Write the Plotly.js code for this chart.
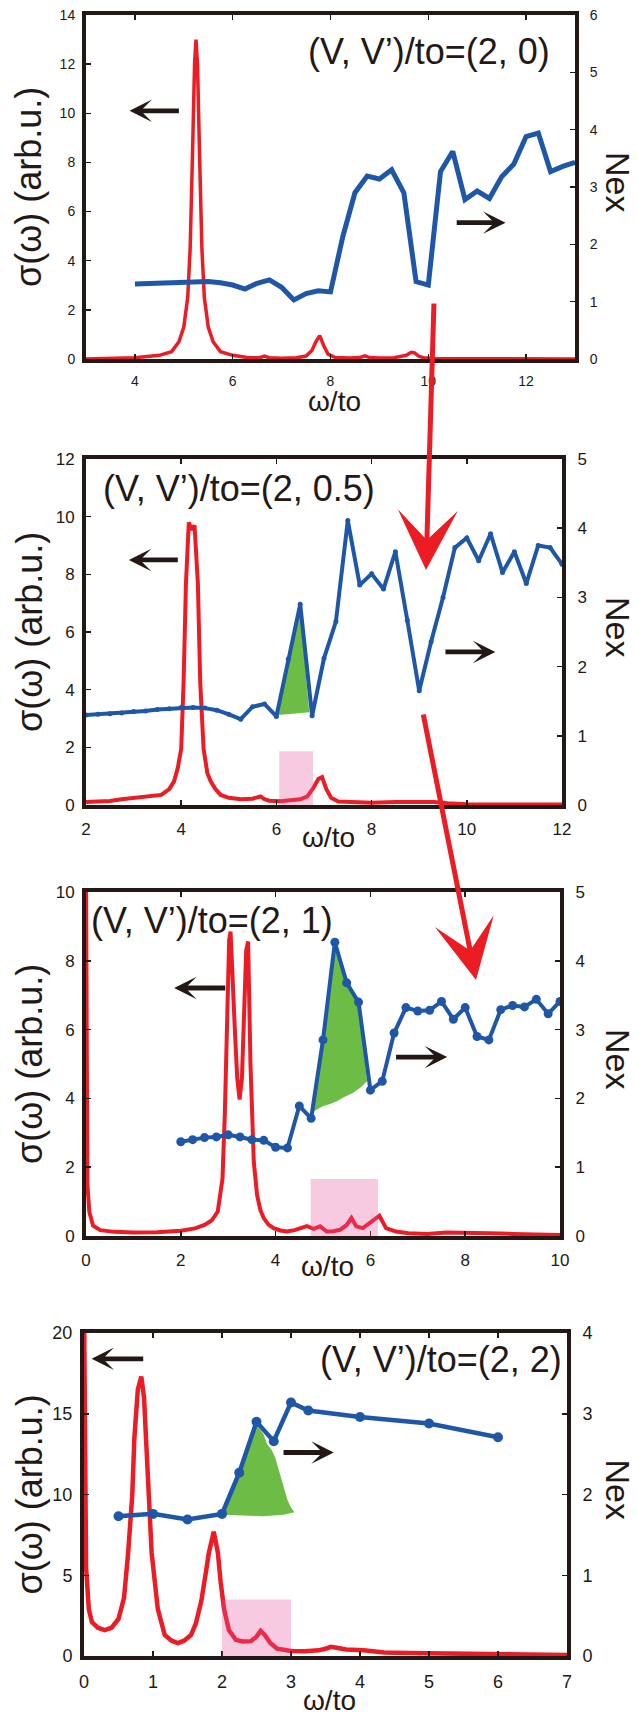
<!DOCTYPE html>
<html><head><meta charset="utf-8">
<script src="https://cdn.plot.ly/plotly-3.0.1.min.js"></script>
<style>html,body{margin:0;padding:0;background:#fff}#chart{width:637px;height:1717px}</style>
</head><body><div id="chart"></div>
<script>
// ---------------- DATA ----------------
// Panel 1: (V, V')/to=(2, 0)
const p1SigmaX = [3.0,3.5,4.0,4.5,4.75,4.9,5.0,5.08,5.13,5.18,5.22,5.25,5.28,5.32,5.37,5.42,5.5,5.6,5.75,6.0,6.3,6.55,6.65,6.75,7.0,7.3,7.5,7.62,7.7,7.78,7.86,7.95,8.1,8.4,8.6,8.7,8.8,9.0,9.3,9.55,9.65,9.72,9.8,9.9,10.1,10.5,11,12,13];
const p1SigmaY = [0.0,0.02,0.05,0.15,0.3,0.7,1.3,2.5,4.5,8.5,12.0,13.0,12.0,8.5,4.5,2.5,1.3,0.7,0.3,0.15,0.06,0.05,0.12,0.05,0.03,0.05,0.12,0.35,0.7,0.95,0.55,0.2,0.06,0.04,0.06,0.13,0.06,0.04,0.05,0.15,0.27,0.25,0.12,0.05,0.02,0.01,0.01,0.0,0.0];
const p1NexX = [4.0,4.25,4.5,4.75,5.0,5.25,5.5,5.75,6.0,6.25,6.5,6.75,7.0,7.25,7.5,7.75,8.0,8.25,8.5,8.75,9.0,9.25,9.5,9.75,10.0,10.25,10.5,10.75,11.0,11.25,11.5,11.75,12.0,12.25,12.5,12.75,13.0];
const p1NexY = [1.31,1.32,1.33,1.34,1.35,1.35,1.35,1.33,1.29,1.22,1.32,1.38,1.25,1.03,1.14,1.19,1.17,2.13,2.90,3.19,3.14,3.30,2.90,1.35,1.29,3.27,3.62,2.78,2.93,2.80,3.18,3.40,3.88,3.94,3.27,3.36,3.43];

// Panel 2: (V, V')/to=(2, 0.5)
const p2SigmaX = [2.0,2.5,2.75,3.0,3.3,3.58,3.75,3.85,3.93,4.0,4.05,4.1,4.16,4.22,4.28,4.35,4.4,4.47,4.55,4.62,4.72,4.83,5.0,5.25,5.5,5.6,5.67,5.75,5.85,6.08,6.3,6.5,6.65,6.78,6.88,6.96,7.05,7.15,7.3,7.6,8.0,8.5,9.0,9.3,9.6,10.0,11.0,12.0];
const p2SigmaY = [0.1,0.14,0.2,0.24,0.28,0.35,0.55,0.82,1.3,1.95,4.25,7.7,9.8,9.55,9.7,7.7,4.25,1.95,1.1,0.82,0.55,0.35,0.25,0.2,0.22,0.28,0.3,0.2,0.15,0.13,0.15,0.2,0.3,0.6,0.9,0.97,0.55,0.25,0.12,0.1,0.08,0.1,0.12,0.1,0.06,0.03,0.02,0.02];
const p2NexX = [2.0,2.25,2.5,2.75,3.0,3.25,3.5,3.75,4.0,4.25,4.5,4.75,5.0,5.25,5.5,5.75,6.0,6.25,6.5,6.75,7.0,7.25,7.5,7.75,8.0,8.25,8.5,8.75,9.0,9.25,9.5,9.75,10.0,10.25,10.5,10.75,11.0,11.25,11.5,11.75,12.0];
const p2NexY = [1.30,1.31,1.32,1.33,1.35,1.36,1.38,1.39,1.41,1.41,1.40,1.37,1.31,1.24,1.42,1.46,1.28,2.11,2.90,1.29,2.12,2.65,4.11,3.18,3.34,3.12,3.66,2.67,1.65,2.36,3.00,3.72,3.86,3.53,3.92,3.36,3.66,3.20,3.75,3.72,3.48];
const p2GreenX = [6.02,6.25,6.49,6.69,6.35,6.02];
const p2GreenY = [1.30,2.11,2.89,1.34,1.32,1.30];

// Panel 3: (V, V')/to=(2, 1)
const p3SigmaX = [0,0.03,0.07,0.15,0.3,0.6,1.0,1.5,2.0,2.3,2.5,2.65,2.78,2.88,2.93,2.97,3.02,3.05,3.09,3.14,3.19,3.24,3.29,3.34,3.38,3.42,3.47,3.54,3.61,3.68,3.75,3.85,3.96,4.1,4.24,4.4,4.52,4.66,4.8,4.94,5.08,5.22,5.36,5.5,5.6,5.7,5.84,6.02,6.19,6.33,6.54,6.8,7.2,7.6,8.0,8.5,9.0,9.5,10];
const p3SigmaY = [10.5,1.5,0.7,0.3,0.17,0.12,0.1,0.11,0.15,0.22,0.32,0.45,0.71,1.67,3.6,6.5,8.6,8.85,7.8,6.0,4.6,3.97,4.6,6.8,8.3,8.56,5.0,2.15,1.19,0.75,0.52,0.33,0.23,0.16,0.13,0.17,0.23,0.29,0.21,0.28,0.13,0.14,0.18,0.32,0.52,0.28,0.23,0.42,0.59,0.23,0.13,0.08,0.06,0.1,0.1,0.08,0.06,0.04,0.03];
const p3NexX = [2,2.25,2.5,2.75,3,3.25,3.5,3.75,4,4.25,4.5,4.75,5,5.25,5.5,5.75,6,6.25,6.5,6.75,7,7.25,7.5,7.75,8,8.25,8.5,8.75,9,9.25,9.5,9.75,10];
const p3NexY = [1.37,1.40,1.43,1.44,1.47,1.44,1.40,1.39,1.29,1.28,1.89,1.71,2.85,4.27,3.68,3.40,2.12,2.25,2.95,3.32,3.27,3.28,3.41,3.15,3.32,2.90,2.85,3.29,3.35,3.33,3.44,3.23,3.41];
const p3GreenX = [4.78,5.0,5.25,5.5,5.75,5.93,5.78,5.63,5.45,5.29,5.15,5.01,4.9,4.78];
const p3GreenY = [1.80,2.85,4.27,3.68,3.40,2.25,2.15,2.08,2.02,1.96,1.92,1.89,1.85,1.80];

// Panel 4: (V, V')/to=(2, 2)
const p4SigmaX = [0,0.03,0.07,0.115,0.2,0.3,0.4,0.5,0.58,0.64,0.7,0.73,0.78,0.83,0.87,0.9,0.94,0.98,1.07,1.17,1.27,1.36,1.45,1.55,1.62,1.7,1.76,1.81,1.88,1.94,1.98,2.03,2.1,2.2,2.3,2.42,2.5,2.56,2.62,2.7,2.8,3.0,3.2,3.4,3.5,3.58,3.68,3.8,4.05,4.35,4.7,5.2,5.8,6.4,7.0];
const p4SigmaY = [22,5.5,2.9,2.1,1.75,1.6,1.75,2.3,3.6,6.4,10.0,13.5,16.5,17.3,16.0,13.5,9.5,6.4,2.9,1.3,0.95,0.8,0.95,1.3,2.0,3.4,5.0,6.4,7.7,6.4,4.6,2.9,1.6,1.0,0.9,0.92,1.2,1.55,1.3,0.8,0.45,0.31,0.3,0.35,0.45,0.57,0.5,0.4,0.35,0.22,0.18,0.14,0.14,0.1,0.06];
const p4NexX = [0.5,1,1.5,2,2.25,2.5,2.75,3,3.25,4,5,6];
const p4NexY = [1.73,1.76,1.69,1.76,2.27,2.90,2.66,3.14,3.04,2.96,2.88,2.71];
const p4GreenX = [2.03,2.25,2.47,2.6,2.65,2.72,2.77,2.82,2.86,2.91,2.95,3.0,3.05,2.89,2.6,2.3,2.03];
const p4GreenY = [1.75,2.27,2.90,2.75,2.63,2.55,2.46,2.32,2.18,2.05,1.93,1.84,1.78,1.75,1.73,1.74,1.75];

// pink highlight bands (x from, x to, height in sigma units)
const pinkX0 = [null,6.06,4.74,2.0];
const pinkX1 = [null,6.77,6.16,3.0];
const pinkTop = [null,1.86,1.66,3.5];

const panelLabels = ["(V, V’)/to=(2, 0)","(V, V’)/to=(2, 0.5)","(V, V’)/to=(2, 1)","(V, V’)/to=(2, 2)"];
const xTitle = "ω/to";
const yLeftTitle = "σ(ω) (arb.u.)";
const yRightTitle = "Nex";

// ---------------- STYLE / LAYOUT ----------------
const W = 637, H = 1717;
const RED = "#ec1c24", BLUE = "#1f57a8", GREEN = "#6cbc45", INK = "#231815";
const FONT = "Liberation Sans Narrow, Liberation Sans, Arial, sans-serif";
const FONT2 = "Liberation Sans, Arial, sans-serif";

const panels = [
  {sx:p1SigmaX, sy:p1SigmaY, nx:p1NexX, ny:p1NexY, gx:null, gy:null,
   box:{l:86,r:575,t:15,b:359}, xr:[3,13], xd:2, yl:[0,14], yld:2, yr:[0,6], yrd:1, tf:14,
   marker:0, bw:5, rw:3.5, xtY:402, lab:{x:552, y:51, anchor:'right'},
   arrowL:{x:3.89, ax:4.93, y:10.1}, arrowR:{x:11.58, ax:10.55, y:5.55}},
  {sx:p2SigmaX, sy:p2SigmaY, nx:p2NexX, ny:p2NexY, gx:p2GreenX, gy:p2GreenY,
   box:{l:86,r:562,t:459,b:805}, xr:[2,12], xd:2, yl:[0,12], yld:2, yr:[0,5], yrd:1, tf:17,
   marker:5, bw:4, rw:4, xtY:838, lab:{x:101, y:488, anchor:'left'},
   arrowL:{x:2.9, ax:3.96, y:8.5}, arrowR:{x:10.6, ax:9.52, y:5.31}},
  {sx:p3SigmaX, sy:p3SigmaY, nx:p3NexX, ny:p3NexY, gx:p3GreenX, gy:p3GreenY,
   box:{l:86,r:560,t:892,b:1236}, xr:[0,10], xd:2, yl:[0,10], yld:2, yr:[0,5], yrd:1, tf:17,
   marker:9, bw:4, rw:4, xtY:1266, lab:{x:89, y:920, anchor:'left'},
   arrowL:{x:1.86, ax:2.97, y:7.21}, arrowR:{x:7.62, ax:6.51, y:5.2}},
  {sx:p4SigmaX, sy:p4SigmaY, nx:p4NexX, ny:p4NexY, gx:p4GreenX, gy:p4GreenY,
   box:{l:84,r:567,t:1333,b:1656}, xr:[0,7], xd:1, yl:[0,20], yld:5, yr:[0,4], yrd:1, tf:18,
   marker:10, bw:4.5, rw:4.5, xtY:1700, lab:{x:564, y:1359, anchor:'right'},
   arrowL:{x:0.11, ax:0.88, y:18.4}, arrowR:{x:3.62, ax:2.87, y:12.6}}
];

const traces = [];
const layout = {
  width: W, height: H, margin:{l:0,r:0,t:0,b:0}, showlegend:false,
  paper_bgcolor:'#fff', plot_bgcolor:'rgba(0,0,0,0)',
  font:{family:FONT, color:INK}, annotations:[], shapes:[]
};

panels.forEach((p, i) => {
  const xa = i === 0 ? 'x' : 'x' + (i + 1);
  const ylId = i === 0 ? 'y' : 'y' + (2 * i + 1);
  const yrId = 'y' + (2 * i + 2);
  const xKey = i === 0 ? 'xaxis' : 'xaxis' + (i + 1);
  const ylKey = i === 0 ? 'yaxis' : 'yaxis' + (2 * i + 1);
  const yrKey = 'yaxis' + (2 * i + 2);
  const b = p.box;
  const common = {showline:true, linewidth:4, linecolor:INK, showgrid:false, zeroline:false,
    ticks:'inside', ticklen:5, tickwidth:1.5, tickcolor:INK, fixedrange:true,
    tickfont:{family:FONT, size:p.tf, color:INK}};
  layout[xKey] = Object.assign({}, common, {domain:[b.l / W, b.r / W], anchor:ylId,
    range:p.xr, dtick:p.xd, tick0:0, mirror:'ticks', ticklabelstandoff:6});
  layout[ylKey] = Object.assign({}, common, {domain:[1 - b.b / H, 1 - b.t / H], anchor:xa,
    range:p.yl, dtick:p.yld, tick0:0, mirror:true, ticklabelstandoff:4});
  layout[yrKey] = Object.assign({}, common, {overlaying:ylId, side:'right', anchor:xa,
    range:p.yr, dtick:p.yrd, tick0:0, ticklabelstandoff:8});

  traces.push({x:p.sx, y:p.sy, xaxis:xa, yaxis:ylId, type:'scatter', mode:'lines',
    line:{color:RED, width:p.rw}, hoverinfo:'skip'});
  if (p.gx) traces.push({x:p.gx, y:p.gy, xaxis:xa, yaxis:yrId, type:'scatter', mode:'lines',
    fill:'toself', fillcolor:GREEN, line:{width:0, color:GREEN}, hoverinfo:'skip'});
  traces.push({x:p.nx, y:p.ny, xaxis:xa, yaxis:yrId, type:'scatter',
    mode: p.marker ? 'lines+markers' : 'lines',
    line:{color:BLUE, width:p.bw}, marker:{color:BLUE, size:p.marker}, hoverinfo:'skip'});

  if (pinkX0[i] !== null) layout.shapes.push({type:'rect', xref:xa, yref:ylId, layer:'above',
    x0:pinkX0[i], x1:pinkX1[i], y0:0, y1:pinkTop[i], fillcolor:'rgba(232,80,160,0.3)', line:{width:0}});

  const cx = (b.l + b.r) / 2, cy = (b.t + b.b) / 2;
  layout.annotations.push({text:yLeftTitle, xref:'paper', yref:'paper', x:29 / W, y:1 - cy / H,
    textangle:-90, showarrow:false, xanchor:'center', yanchor:'middle', font:{family:FONT2, size:36, color:INK}});
  layout.annotations.push({text:yRightTitle, xref:'paper', yref:'paper', x:618 / W, y:1 - (cy - 5) / H,
    textangle:90, showarrow:false, xanchor:'center', yanchor:'middle', font:{family:FONT2, size:34, color:INK}});
  layout.annotations.push({text:xTitle, xref:'paper', yref:'paper', x:(cx + 4) / W, y:1 - p.xtY / H,
    showarrow:false, xanchor:'center', yanchor:'middle', font:{family:FONT2, size:28, color:INK}});
  layout.annotations.push({text:panelLabels[i], xref:'paper', yref:'paper', x:p.lab.x / W, y:1 - p.lab.y / H,
    showarrow:false, xanchor:p.lab.anchor, yanchor:'middle', font:{family:FONT2, size:36, color:INK}});
  [p.arrowL, p.arrowR].forEach(a => {
    layout.annotations.push({text:'', xref:xa, yref:ylId, axref:xa, ayref:ylId,
      x:a.x, y:a.y, ax:a.ax, ay:a.y, showarrow:true, arrowhead:3, arrowsize:0.78,
      arrowwidth:4.8, arrowcolor:INK});
  });
});

// red connecting arrows (tip pixel, tail offset)
[{tx:426, ty:570, dx:8, dy:-268}, {tx:476, ty:980, dx:-53, dy:-267}].forEach(a => {
  layout.annotations.push({text:'', xref:'paper', yref:'paper', x:a.tx / W, y:1 - a.ty / H,
    ax:a.dx, ay:a.dy, axref:'pixel', ayref:'pixel', showarrow:true, arrowhead:3,
    arrowsize:2.0, arrowwidth:5, arrowcolor:RED});
});

Plotly.newPlot('chart', traces, layout, {staticPlot:true, displayModeBar:false});
</script></body></html>
